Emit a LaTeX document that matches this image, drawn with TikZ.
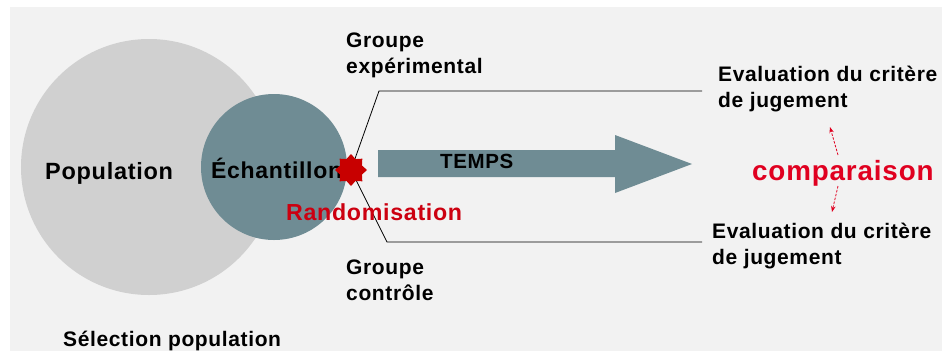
\documentclass[tikz,border=0pt]{standalone}
\usepackage{fontspec}
\setmainfont{Liberation Sans}[LetterSpace=3]
\usetikzlibrary{shapes.geometric,arrows.meta}
\definecolor{bg}{RGB}{242,242,242}
\definecolor{popgray}{RGB}{208,208,208}
\definecolor{slate}{RGB}{111,140,148}
\definecolor{randred}{RGB}{204,0,16}
\definecolor{cmpred}{RGB}{224,0,32}
\definecolor{starred}{RGB}{200,0,0}
\tikzset{
  lbl/.style={anchor=base west, inner sep=0pt, text=black, font=\bfseries\fontsize{21bp}{24bp}\selectfont},
  link/.style={draw=black, line width=0.8bp},
  cmparrow/.style={draw=cmpred, line width=0.8bp, dash pattern=on 2.5bp off 1.5bp, -{Stealth[length=6bp,width=4.5bp]}}
}
\begin{document}
\begin{tikzpicture}[x=1bp,y=-1bp]
\useasboundingbox (0,0) rectangle (942,351);
\fill[bg] (10,7) rectangle (942,351);
% circles
\node[circle, fill=popgray, minimum size=256bp, inner sep=0] (pop) at (149,167) {};
\node[circle, fill=slate, minimum size=146bp, inner sep=0] (ech) at (274,167) {};
% arrow
\fill[slate] (378,150) -- (615,150) -- (615,135) -- (692,164) -- (615,193) -- (615,177) -- (378,177) -- cycle;
\node[lbl, font=\bfseries\fontsize{20.5bp}{22bp}\selectfont] (temps) at (440,168) {TEMPS};
% labels
\node[lbl, font=\bfseries\fontsize{23.5bp}{26bp}\selectfont] (poplbl) at (45,179) {Population};
\node[lbl, font=\bfseries\fontsize{23bp}{26bp}\selectfont] (echlbl) at (211,178) {Échantillon};
% randomisation lines
\coordinate (rc) at (351,170);
\coordinate (ub) at (379,91);
\coordinate (ue) at (702,91);
\coordinate (lb) at (387,242);
\coordinate (le) at (702,242);
\draw[link] (rc) -- (ub) -- (ue);
\draw[link] (rc) -- (lb) -- (le);
\node[star, star points=8, star point ratio=1.35, fill=starred, minimum size=32bp, inner sep=0] (rstar) at (rc) {};
\node[lbl, text=randred, font=\bfseries\fontsize{23.2bp}{26bp}\selectfont] (rand) at (286,220) {Randomisation};
% groups
\node[lbl] (ge1) at (346,47) {Groupe};
\node[lbl] (ge2) at (346,73) {expérimental};
\node[lbl] (gc1) at (346,274) {Groupe};
\node[lbl] (gc2) at (346,300) {contrôle};
% evaluations
\node[lbl] (ev1a) at (718,81) {Evaluation du critère};
\node[lbl] (ev1b) at (718,107) {de jugement};
\node[lbl] (ev2a) at (712,238) {Evaluation du critère};
\node[lbl] (ev2b) at (712,264) {de jugement};
% comparaison
\node[lbl, text=cmpred, font=\bfseries\fontsize{27.8bp}{32bp}\selectfont] (cmp) at (752,180) {comparaison};
\coordinate (ca1) at (838,155);
\coordinate (ca2) at (830,127);
\coordinate (cb1) at (838,186);
\coordinate (cb2) at (832,212);
\draw[cmparrow] (ca1) -- (ca2);
\draw[cmparrow] (cb1) -- (cb2);
% selection
\node[lbl] (sel) at (63,346) {Sélection population};
\end{tikzpicture}
\end{document}
